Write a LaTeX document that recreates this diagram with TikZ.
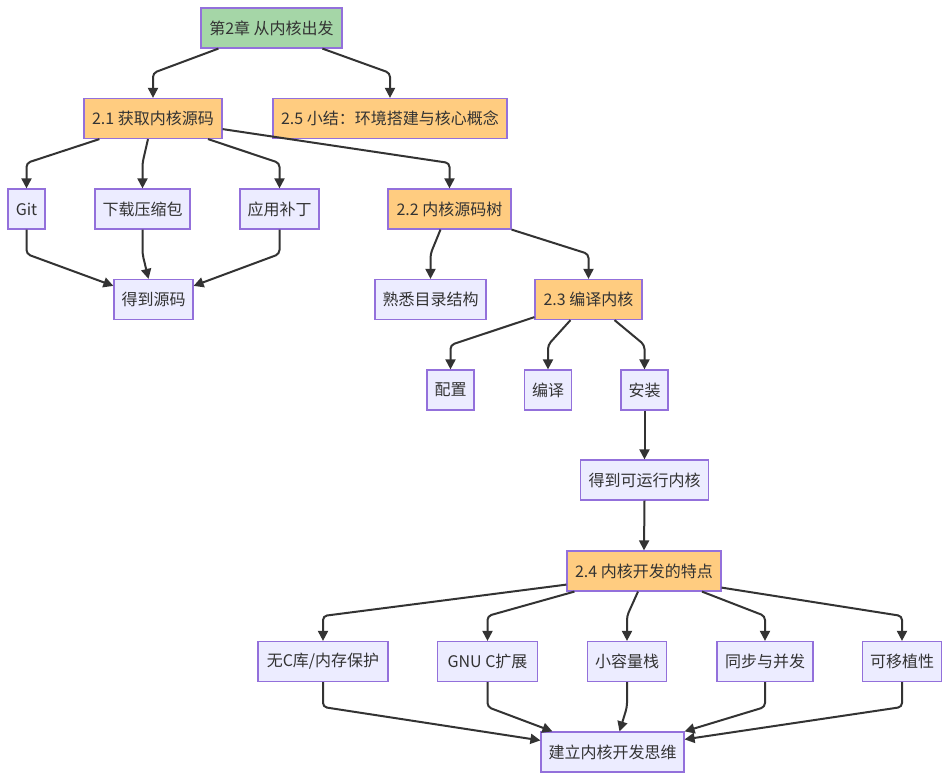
\documentclass[tikz,border=0pt]{standalone}
\usepackage{fontspec}
\setmainfont{Noto Sans CJK SC}
\usetikzlibrary{arrows.meta,calc}
\definecolor{boxfill}{HTML}{ECECFF}
\definecolor{bord}{HTML}{9370DB}
\definecolor{grn}{HTML}{A5D6A7}
\definecolor{org}{HTML}{FFCC80}
\definecolor{edgec}{HTML}{333333}
\definecolor{txt}{HTML}{333333}
\tikzset{
  box/.style={draw=bord, fill=boxfill, line width=0.9pt, minimum height=30pt, inner sep=0pt, text=txt, font=\fontsize{12}{14}\selectfont},
  grnbox/.style={box, fill=grn},
  orgbox/.style={box, fill=org},
  bw/.style={minimum width=#1*0.75pt},
  arr/.style={draw=edgec, line width=1.5pt, rounded corners=3pt, -{Triangle[length=7.5pt,width=7.5pt]}}
}
\begin{document}
\begin{tikzpicture}[x=0.75pt,y=-0.75pt]
\useasboundingbox[fill=white] (0,0) rectangle (947,781);
% nodes
\node[grnbox,bw=141] (ch2) at (271.5,28) {第2章 从内核出发};
\node[orgbox,bw=138] (s21) at (153,118.5) {2.1 获取内核源码};
\node[orgbox,bw=234] (s25) at (390,118.5) {2.5 小结：环境搭建与核心概念};
\node[box,bw=37] (git) at (26.5,209) {Git};
\node[box,bw=95] (dl) at (142.5,209) {下载压缩包};
\node[box,bw=79] (patch) at (279.5,209) {应用补丁};
\node[box,bw=79] (get) at (153.5,299.5) {得到源码};
\node[orgbox,bw=123] (s22) at (449.5,209) {2.2 内核源码树};
\node[box,bw=111] (fam) at (430.5,299.5) {熟悉目录结构};
\node[orgbox,bw=107] (s23) at (588.5,299.5) {2.3 编译内核};
\node[box,bw=47] (cfg) at (450.5,390) {配置};
\node[box,bw=47] (cmp) at (548,390) {编译};
\node[box,bw=47] (inst) at (644.5,390) {安装};
\node[box,bw=128] (run) at (644.5,480) {得到可运行内核};
\node[orgbox,bw=154] (s24) at (644,571) {2.4 内核开发的特点};
\node[box,bw=130] (noc) at (323,661.5) {无C库/内存保护};
\node[box,bw=100] (gnu) at (487.5,661.5) {GNU C扩展};
\node[box,bw=79] (small) at (627,661.5) {小容量栈};
\node[box,bw=96] (sync) at (765,661.5) {同步与并发};
\node[box,bw=79] (port) at (902,661.5) {可移植性};
\node[box,bw=143] (think) at (612.5,752) {建立内核开发思维};
% edges
\draw[arr] ($(ch2.south west)+(18,0)$) -- (153,73) -- (s21.north);
\draw[arr] ($(ch2.south west)+(122,0)$) -- (390,73) -- (s25.north);
\draw[arr] ($(s21.south west)+(16,0)$) -- (26.5,163) -- (git.north);
\draw[arr] ($(s21.south)+(-5,0)$) -- (142.5,163) -- (dl.north);
\draw[arr] ($(s21.south)+(55,0)$) -- (279.5,163) -- (patch.north);
\draw[arr] ($(s21.south east)+(0,-10)$) -- (449.5,163) -- (s22.north);
\draw[arr] (git.south) -- (26.5,254) -- ($(get.north west)+(0,7)$);
\draw[arr] (dl.south) -- (142.5,254) -- ($(get.north)+(-5,0)$);
\draw[arr] (patch.south) -- (279.5,254) -- ($(get.north east)+(0,7)$);
\draw[arr] ($(s22.south)+(-9,0)$) -- (430.5,254) -- (fam.north);
\draw[arr] (s22.south east) -- (588.5,254) -- (s23.north);
\draw[arr] ($(s23.south west)+(0,-3)$) -- (450.5,345) -- (cfg.north);
\draw[arr] ($(s23.south)+(-18,0)$) -- (548,345) -- (cmp.north);
\draw[arr] ($(s23.south)+(26,0)$) -- (644.5,345) -- (inst.north);
\draw[arr] (inst.south) -- (run.north);
\draw[arr] (run.south) -- (s24.north);
\draw[arr] ($(s24.south west)+(0,-7)$) -- (323,616) -- (noc.north);
\draw[arr] ($(s24.south west)+(8,0)$) -- (487.5,616) -- (gnu.north);
\draw[arr] ($(s24.south)+(-6,0)$) -- (627,616) -- (small.north);
\draw[arr] ($(s24.south)+(58,0)$) -- (765,616) -- (sync.north);
\draw[arr] ($(s24.south east)+(0,-4)$) -- (902,616) -- (port.north);
\draw[arr] (noc.south) -- (323,707) -- ($(think.north west)+(0,9)$);
\draw[arr] (gnu.south) -- (487.5,707) -- ($(think.north west)+(12,0)$);
\draw[arr] (small.south) -- (627,707) -- ($(think.north)+(7,0)$);
\draw[arr] (sync.south) -- (765,707) -- (think.north east);
\draw[arr] (port.south) -- (902,707) -- ($(think.north east)+(0,8)$);
\end{tikzpicture}
\end{document}
